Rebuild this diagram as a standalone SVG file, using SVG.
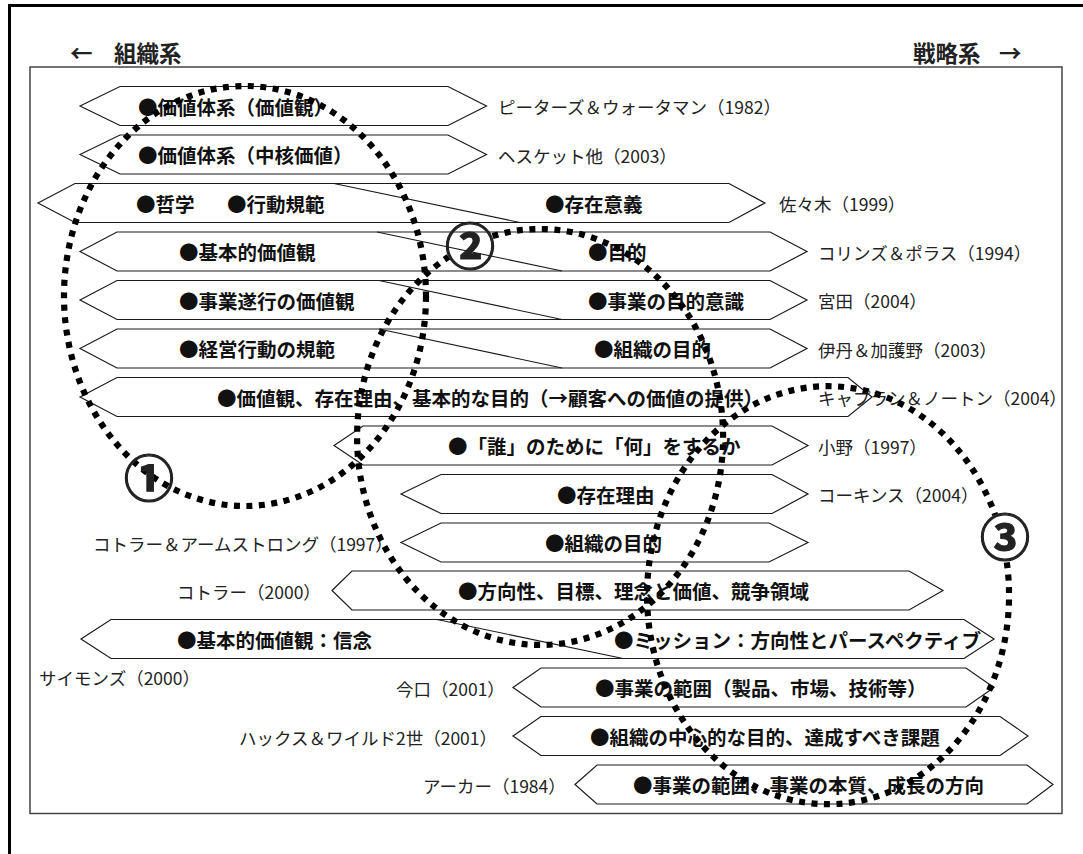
<svg xmlns="http://www.w3.org/2000/svg" width="1083" height="854" viewBox="0 0 1083 854">
<style>
.hex{fill:#fff;stroke:#1a1a1a;stroke-width:1.2}
.ln{stroke:#1a1a1a;stroke-width:1.1;fill:none}
.lab{font-family:'Noto Sans CJK JP','Noto Sans CJK SC',sans-serif;font-weight:700;font-size:19.5px;fill:#111}
.auth{font-family:'Noto Sans CJK JP','Noto Sans CJK SC',sans-serif;font-weight:400;font-size:17.5px;fill:#222}
.hdr{font-family:'Noto Sans CJK JP','Noto Sans CJK SC',sans-serif;font-weight:700;font-size:22.5px;fill:#222}
.dot{fill:none;stroke:#000;stroke-width:6.2;stroke-dasharray:6 6.5}
.num{font-family:'Noto Sans CJK JP','Noto Sans CJK SC',sans-serif;font-weight:700;font-size:50px;fill:#222;stroke:#222;stroke-width:1.2;text-anchor:middle}
</style>
<rect x="0" y="0" width="1083" height="854" fill="#fff"/>
<rect x="9.5" y="5.5" width="1100" height="900" fill="none" stroke="#000" stroke-width="3"/>
<rect x="30" y="67" width="1032" height="746.5" fill="none" stroke="#444" stroke-width="1.5"/>
<g id="header">
<text class="hdr" x="70" y="62">←</text>
<text class="hdr" x="114" y="62">組織系</text>
<text class="hdr" x="913" y="62">戦略系</text>
<text class="hdr" x="999" y="62">→</text>
</g>
<g id="row1">
<polygon class="hex" points="80,106 120,86.5 448,86.5 486.5,106 448,125.5 120,125.5"/>
<text class="lab" x="138" y="114.5">●価値体系（価値観）</text>
<text class="auth" x="498" y="114">ピーターズ＆ウォータマン（1982）</text>
</g>
<g id="row2">
<polygon class="hex" points="80,154.5 120,135 448,135 486.5,154.5 448,174 120,174"/>
<text class="lab" x="138" y="163">●価値体系（中核価値）</text>
<text class="auth" x="498" y="162.5">ヘスケット他（2003）</text>
</g>
<g id="row3">
<polygon class="hex" points="38,203 75,183.5 729,183.5 765,203 729,222.5 75,222.5"/>
<text class="lab" x="136" y="211.5">●哲学</text>
<text class="lab" x="227" y="211.5">●行動規範</text>
<text class="lab" x="545" y="211.5">●存在意義</text>
<text class="auth" x="779" y="211">佐々木（1999）</text>
</g>
<g id="row4">
<polygon class="hex" points="80,251.5 117,232 770,232 807,251.5 770,271 117,271"/>
<text class="lab" x="179" y="260">●基本的価値観</text>
<text class="lab" x="588" y="260">●目的</text>
<text class="auth" x="818" y="259.5">コリンズ＆ポラス（1994）</text>
</g>
<g id="row5">
<polygon class="hex" points="80,300 117,280.5 770,280.5 807,300 770,319.5 117,319.5"/>
<text class="lab" x="179" y="308.5">●事業遂行の価値観</text>
<text class="lab" x="588" y="308.5">●事業の目的意識</text>
<text class="auth" x="818" y="308">宮田（2004）</text>
</g>
<g id="row6">
<polygon class="hex" points="80,348.5 117,329 770,329 807,348.5 770,368 117,368"/>
<text class="lab" x="179" y="357">●経営行動の規範</text>
<text class="lab" x="594" y="357">●組織の目的</text>
<text class="auth" x="818" y="356.5">伊丹＆加護野（2003）</text>
</g>
<g id="row7">
<polygon class="hex" points="80,397 117,377.5 848,377.5 872,397 848,416.5 117,416.5"/>
<text class="lab" x="217" y="405.5">●価値観、存在理由、基本的な目的（→顧客への価値の提供）</text>
<text class="auth" x="818" y="405">キャプラン＆ノートン（2004）</text>
</g>
<g id="row8">
<polygon class="hex" points="334,445.5 363,426 772,426 808,445.5 772,465 363,465"/>
<text class="lab" x="448" y="454">●「誰」のために「何」をするか</text>
<text class="auth" x="818" y="453.5">小野（1997）</text>
</g>
<g id="row9">
<polygon class="hex" points="401,494 441,474.5 772,474.5 808,494 772,513.5 441,513.5"/>
<text class="lab" x="557" y="502.5">●存在理由</text>
<text class="auth" x="818" y="502">コーキンス（2004）</text>
</g>
<g id="row10">
<polygon class="hex" points="401,542.5 441,523 769,523 808,542.5 769,562 441,562"/>
<text class="lab" x="545" y="551">●組織の目的</text>
<text class="auth" x="93" y="550.5">コトラー＆アームストロング（1997）</text>
</g>
<g id="row11">
<polygon class="hex" points="332,590.5 352,571 909,571 943,590.5 909,610 352,610"/>
<text class="lab" x="458" y="599">●方向性、目標、理念と価値、競争領域</text>
<text class="auth" x="177" y="598.5">コトラー（2000）</text>
</g>
<g id="row12">
<polygon class="hex" points="81,639 111,619.5 964,619.5 994,639 964,658.5 111,658.5"/>
<text class="lab" x="177" y="647.5">●基本的価値観：信念</text>
<text class="lab" x="614" y="647.5">●ミッション：方向性とパースペクティブ</text>
<text class="auth" x="39" y="685">サイモンズ（2000）</text>
</g>
<g id="row13">
<polygon class="hex" points="513,687.5 541,668 966,668 994,687.5 966,707 541,707"/>
<text class="lab" x="595" y="696">●事業の範囲（製品、市場、技術等）</text>
<text class="auth" x="396" y="696">今口（2001）</text>
</g>
<g id="row14">
<polygon class="hex" points="513,736 541,716.5 1000,716.5 1028,736 1000,755.5 541,755.5"/>
<text class="lab" x="590" y="744.5">●組織の中心的な目的、達成すべき課題</text>
<text class="auth" x="239" y="744.5">ハックス＆ワイルド2世（2001）</text>
</g>
<g id="row15">
<polygon class="hex" points="575,784.5 597,765 1027,765 1053,784.5 1027,804 597,804"/>
<text class="lab" x="633" y="793">●事業の範囲、事業の本質、成長の方向</text>
<text class="auth" x="423" y="793">アーカー（1984）</text>
</g>
<g id="connectors">
<line class="ln" x1="334" y1="183.5" x2="520" y2="222.5"/>
<line class="ln" x1="377" y1="232" x2="562" y2="271"/>
<line class="ln" x1="379" y1="280.5" x2="562" y2="319.5"/>
<line class="ln" x1="379" y1="329" x2="562" y2="368"/>
<line class="ln" x1="437" y1="619.5" x2="623" y2="658.5"/>
</g>
<g id="group1">
<ellipse class="dot" cx="245" cy="296" rx="181" ry="210"/>
<text class="num" x="149" y="496.5">①</text>
</g>
<g id="group2">
<path class="dot" d="M492.6,236.1 A183,208 0 1 1 448.5,256.9"/>
<text class="num" x="470" y="264.5">②</text>
</g>
<g id="group3">
<path class="dot" d="M1006.8,562.3 A181,209 0 1 1 995.2,515"/>
<text class="num" x="1005" y="555.5">③</text>
</g>
</svg>
